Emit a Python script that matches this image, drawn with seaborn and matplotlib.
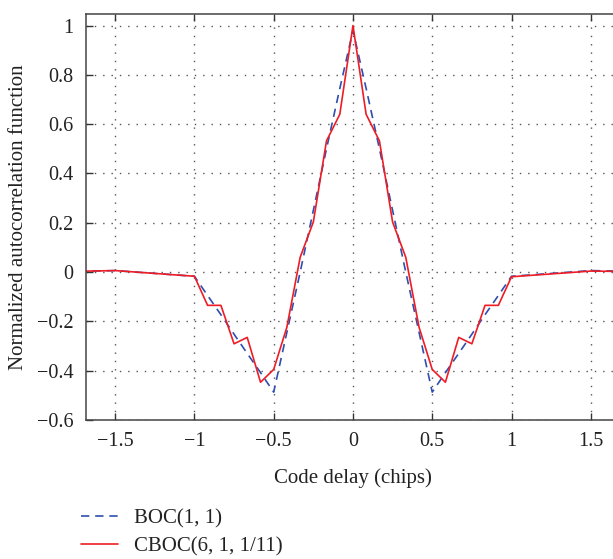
import numpy as np
import pandas as pd
import matplotlib
matplotlib.use("Agg")
import matplotlib.pyplot as plt
import seaborn as sns

# code delay (chips), sampled every 1/12 chip around the peak
delay = [-2.0, -1.5, -1.0, -0.917, -0.833, -0.75, -0.667, -0.583, -0.5,
         -0.417, -0.333, -0.25, -0.167, -0.083, 0.0,
         0.083, 0.167, 0.25, 0.333, 0.417, 0.5, 0.583, 0.667, 0.75,
         0.833, 0.917, 1.0, 1.5, 2.0]

# BOC(1,1) normalized autocorrelation
boc = [0.0, 0.006, -0.017, -0.095, -0.173, -0.252, -0.33, -0.408, -0.487,
       -0.245, 0.0, 0.25, 0.5, 0.745, 0.98,
       0.745, 0.5, 0.25, 0.0, -0.245, -0.487, -0.408, -0.33, -0.252,
       -0.173, -0.095, -0.017, 0.006, 0.0]

# CBOC(6,1,1/11) normalized autocorrelation
cboc = [0.0, 0.006, -0.017, -0.135, -0.135, -0.291, -0.265, -0.447, -0.395,
        -0.224, 0.06, 0.203, 0.532, 0.64, 1.0,
        0.64, 0.532, 0.203, 0.06, -0.224, -0.395, -0.447, -0.265, -0.291,
        -0.135, -0.135, -0.019, 0.004, 0.0]

df = pd.DataFrame({"delay": delay, "BOC(1, 1)": boc, "CBOC(6, 1, 1/11)": cboc})

sns.set_style("ticks")
plt.rcParams['font.family'] = ['Liberation Serif', 'DejaVu Serif']
plt.rcParams['text.color'] = '#222222'
plt.rcParams['axes.labelcolor'] = '#222222'
plt.rcParams['xtick.color'] = '#333333'
plt.rcParams['ytick.color'] = '#333333'
plt.rcParams['xtick.labelcolor'] = '#222222'
plt.rcParams['ytick.labelcolor'] = '#222222'

fig = plt.figure(figsize=(6.13, 5.59), dpi=100)
ax = fig.add_axes([0.14, 0.2487, 0.8716, 0.7263])

sns.lineplot(data=df, x="delay", y="BOC(1, 1)", ax=ax, color="#2f4fae",
             linewidth=1.2, linestyle=(0, (5, 3.5)), label="BOC(1, 1)")
sns.lineplot(data=df, x="delay", y="CBOC(6, 1, 1/11)", ax=ax, color="#ee1c25",
             linewidth=1.2, label="CBOC(6, 1, 1/11)")

ax.set_xlim(-1.685, 1.685)
ax.set_ylim(-0.6, 1.047)
ax.set_xticks([-1.5, -1, -0.5, 0, 0.5, 1, 1.5])
ax.set_xticklabels(["\u22121.5", "\u22121", "\u22120.5", "0", "0.5", "1", "1.5"])
ax.set_yticks([-0.6, -0.4, -0.2, 0, 0.2, 0.4, 0.6, 0.8, 1])
ax.set_yticklabels(["\u22120.6", "\u22120.4", "\u22120.2", "0", "0.2", "0.4", "0.6", "0.8", "1"])
ax.tick_params(direction="in", length=5, width=1, top=True, right=True,
               labelsize=14.5)
ax.tick_params(axis="x", pad=9)
ax.tick_params(axis="y", pad=9)
ax.grid(True, color="#555555", linestyle=(0, (1, 5)), linewidth=1)
for s in ax.spines.values():
    s.set_color("#444444")
    s.set_linewidth(1.1)

ax.set_xlabel("Code delay (chips)", fontsize=15, labelpad=12)
ax.set_ylabel("Normalized autocorrelation function", fontsize=15, labelpad=6)

ax.get_legend().remove()
handles, labels = ax.get_legend_handles_labels()
fig.legend(handles, labels, loc="upper left", bbox_to_anchor=(0.132, 0.09),
           frameon=False, fontsize=15, handlelength=1.8, handletextpad=0.75,
           labelspacing=0.42, borderpad=0, borderaxespad=0)

fig.savefig("out.png", dpi=100)
